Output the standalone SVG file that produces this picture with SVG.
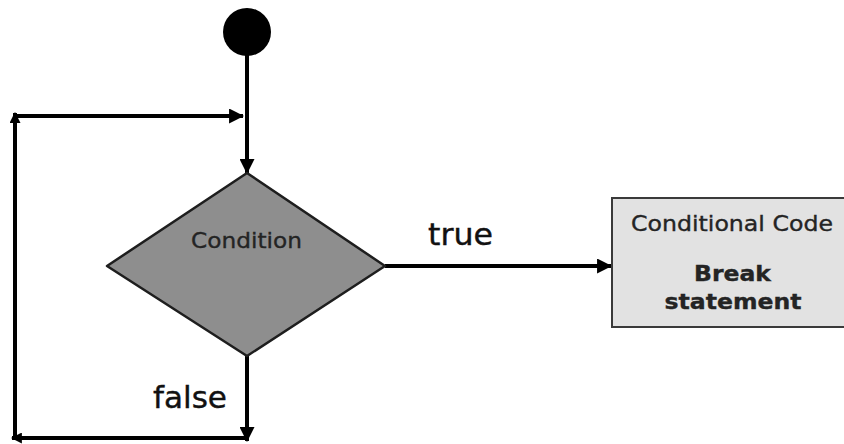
<svg xmlns="http://www.w3.org/2000/svg" width="844" height="444" viewBox="0 0 844 444">
  <style>
    .conn { fill: none; stroke: #000; stroke-width: 4; }
    .lbl { font-family: "DejaVu Sans", Verdana, sans-serif; fill: #111; stroke: #111; stroke-width: 0.4; }
    .node-text { font-family: "DejaVu Sans", Verdana, sans-serif; fill: #242424; stroke: #242424; stroke-width: 0.35; }
  </style>
  <defs>
    <marker id="ah" viewBox="0 0 14 14" refX="13" refY="7" markerWidth="15" markerHeight="15" markerUnits="userSpaceOnUse" orient="auto">
      <path d="M0,0 L14,7 L0,14 z" fill="#000"/>
    </marker>
    <marker id="ahs" viewBox="0 0 10 10" refX="9" refY="5" markerWidth="11" markerHeight="11" markerUnits="userSpaceOnUse" orient="auto">
      <path d="M0,0 L10,5 L0,10 z" fill="#000"/>
    </marker>
  </defs>
  <rect width="844" height="444" fill="#fff"/>

  <g id="connectors">
    <line class="conn" x1="247" y1="55" x2="247" y2="173" marker-end="url(#ah)"/>
    <line class="conn" x1="15" y1="116" x2="243" y2="116" marker-end="url(#ah)"/>
    <line class="conn" x1="15" y1="438" x2="15" y2="113" marker-end="url(#ahs)"/>
    <line class="conn" x1="385" y1="266" x2="611" y2="266" marker-end="url(#ah)"/>
    <line class="conn" x1="247" y1="356" x2="247" y2="441" marker-end="url(#ah)"/>
    <line class="conn" x1="247" y1="438" x2="12" y2="438" marker-end="url(#ahs)"/>
    <text class="lbl" x="460.5" y="245" font-size="30" text-anchor="middle" textLength="65" lengthAdjust="spacingAndGlyphs">true</text>
    <text class="lbl" x="190" y="408" font-size="30" text-anchor="middle" textLength="74" lengthAdjust="spacingAndGlyphs">false</text>
  </g>

  <g id="start">
    <circle cx="247" cy="32" r="24" fill="#000"/>
  </g>

  <g id="condition">
    <polygon points="247,173 385,266 247,356 107,266" fill="#8e8e8e" stroke="#1e1e1e" stroke-width="2.5" stroke-linejoin="round"/>
    <text class="node-text" x="246.5" y="248" font-size="22" text-anchor="middle" textLength="111" lengthAdjust="spacingAndGlyphs">Condition</text>
  </g>

  <g id="conditional-code">
    <rect x="612" y="198" width="240" height="129" fill="#e2e2e2" stroke="#3a3a3a" stroke-width="2"/>
    <text class="node-text" x="732" y="231" font-size="21" text-anchor="middle" textLength="202" lengthAdjust="spacingAndGlyphs" fill="#333" stroke="#333">Conditional Code</text>
    <text class="node-text" x="732.5" y="281" font-size="21" font-weight="bold" text-anchor="middle" textLength="77" lengthAdjust="spacingAndGlyphs">Break</text>
    <text class="node-text" x="733" y="309" font-size="21" font-weight="bold" text-anchor="middle" textLength="137" lengthAdjust="spacingAndGlyphs">statement</text>
  </g>
</svg>
